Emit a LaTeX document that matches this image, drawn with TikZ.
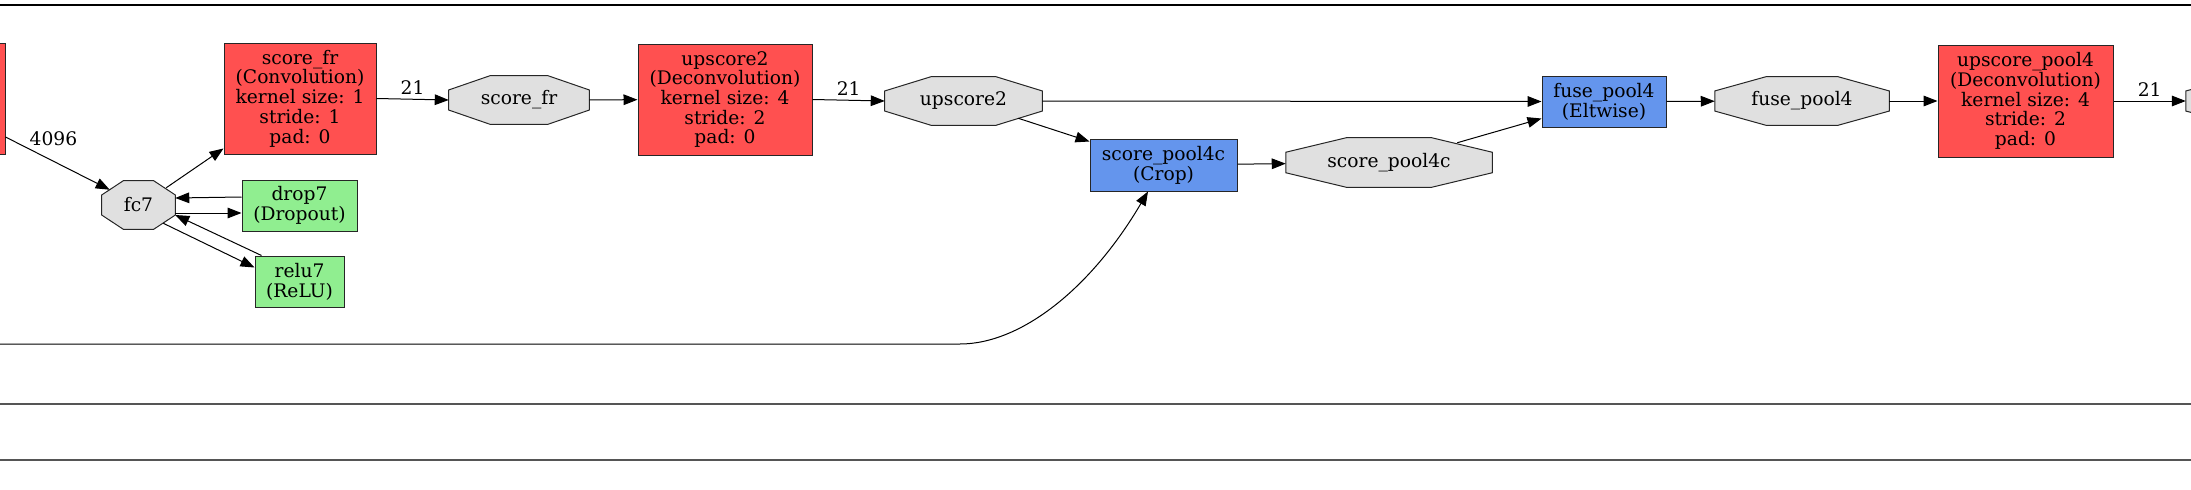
\documentclass[tikz,border=0pt]{standalone}
\usepackage{fontspec}
\setmainfont{DejaVu Serif}
\usetikzlibrary{arrows.meta,backgrounds,calc,positioning}
\definecolor{convred}{HTML}{FF5050}
\definecolor{actgreen}{HTML}{90EE90}
\definecolor{cropblue}{HTML}{6495ED}
\definecolor{blobgray}{HTML}{E0E0E0}
\definecolor{farline}{HTML}{555555}
% octagon drawn round a blob node
\newcommand{\BlobOct}[1]{%
  \filldraw[fill=blobgray,draw=black!85,line width=0.75pt]
    ($(#1.north west)!.293!(#1.north east)$) -- ($(#1.north east)!.293!(#1.north west)$) --
    ($(#1.north east)!.293!(#1.south east)$) -- ($(#1.south east)!.293!(#1.north east)$) --
    ($(#1.south east)!.293!(#1.south west)$) -- ($(#1.south west)!.293!(#1.south east)$) --
    ($(#1.south west)!.293!(#1.north west)$) -- ($(#1.north west)!.293!(#1.south west)$) -- cycle;}

\begin{document}
\begin{tikzpicture}[x=0.75pt,y=-0.75pt,>={Triangle[length=10.5pt,width=8pt]},
  font=\fontsize{14pt}{14.8pt}\selectfont,
  layer/.style={draw=black!85,line width=0.75pt,rectangle,align=center,inner sep=0pt},
  conv/.style={layer,fill=convred,minimum height=83.25pt},
  act/.style={layer,fill=actgreen,minimum height=38.25pt},
  crop/.style={layer,fill=cropblue,minimum height=38.25pt},
  blob/.style={rectangle,inner sep=0pt,minimum height=36pt,align=center},
  edge/.style={->,line width=0.75pt},
  lbl/.style={inner sep=1pt},
  far/.style={line width=1.3pt,farline}]
\useasboundingbox (0,0) rectangle (2191,489);
\node[conv,minimum width=112.5pt] (fc7conv) at (-70,98.5) {};
\node[blob,minimum width=54.75pt] (fc7) at (138.5,205) {fc7};
\node[conv,minimum width=114pt] (scorefr) at (300,98.5) {score\_fr\\(Convolution)\\kernel size: 1\\stride: 1\\pad: 0};
\node[act,minimum width=86.25pt] (drop7) at (299.5,205.5) {drop7\\(Dropout)};
\node[act,minimum width=66.75pt] (relu7) at (299.5,281.5) {relu7\\(ReLU)};
\node[blob,minimum width=105pt] (scorefrb) at (519,100) {score\_fr};
\node[conv,minimum width=130.5pt] (upscore2) at (725,99.5) {upscore2\\(Deconvolution)\\kernel size: 4\\stride: 2\\pad: 0};
\node[blob,minimum width=117.75pt] (upscore2b) at (963.5,101) {upscore2};
\node[crop,minimum width=110.25pt,minimum height=39pt] (scorepool4c) at (1163.5,165) {score\_pool4c\\(Crop)};
\node[blob,minimum width=154.5pt,minimum height=36.75pt] (scorepool4cb) at (1389,162.5) {score\_pool4c};
\node[crop,minimum width=93pt] (fusepool4) at (1604,101.5) {fuse\_pool4\\(Eltwise)};
\node[blob,minimum width=130.5pt] (fusepool4b) at (1802,101) {fuse\_pool4};
\node[conv,minimum width=131.25pt,minimum height=84pt] (upscorepool4) at (2025.5,101) {upscore\_pool4\\(Deconvolution)\\kernel size: 4\\stride: 2\\pad: 0};
\node[blob,minimum width=142.5pt] (upscorepool4b) at (2281,101) {};
\begin{scope}[on background layer]
\BlobOct{fc7}
\BlobOct{scorefrb}
\BlobOct{upscore2b}
\BlobOct{scorepool4cb}
\BlobOct{fusepool4b}
\BlobOct{upscorepool4b}
\end{scope}
% loose ends of edges running off the picture
\coordinate (topL) at (0,5);
\coordinate (topR) at (2191,5);
\coordinate (midL) at (0,404);
\coordinate (midR) at (2191,404);
\coordinate (lowL) at (0,460);
\coordinate (lowR) at (2191,460);
\coordinate (pool4in) at (0,344);
\draw[line width=1pt] (topL) -- (topR);
\draw[far] (midL) -- (midR);
\draw[far] (lowL) -- (lowR);
\draw[edge] ($(fc7conv.east)+(0,38.5)$) -- node[lbl,pos=.46,above=10pt] {4096} ($(fc7.north west)+(8,9)$);
\draw[edge] ($(fc7.north east)+(-9,7)$) -- ($(scorefr.south west)+(0,-6)$);
\draw[edge] ($(drop7.west)+(0,-8.5)$) -- ($(fc7.east)+(0,-7)$);
\draw[edge] ($(fc7.east)+(0,8)$) -- ($(drop7.west)+(0,7.5)$);
\draw[edge] ($(relu7.north west)+(7,0)$) -- ($(fc7.east)+(0,10)$);
\draw[edge] ($(fc7.south east)+(-12,-6)$) -- ($(relu7.north west)+(0,12)$);
\draw[edge] (scorefr.east) -- node[lbl,above=2pt] {21} (scorefrb.west);
\draw[edge] (scorefrb) -- (upscore2);
\draw[edge] (upscore2.east) -- node[lbl,above=2pt] {21} (upscore2b.west);
\draw[edge] (upscore2b.east) -- (fusepool4.west);
\draw[edge] ($(upscore2b.south east)+(-24,-7)$) -- ($(scorepool4c.north west)+(0,3)$);
\draw[edge] (pool4in) -- (960,344) .. controls (1020,344) and (1090,290) .. ($(scorepool4c.south)+(-15.5,0)$);
\draw[edge] (scorepool4c) -- (scorepool4cb);
\draw[edge] ($(scorepool4cb.north east)+(-35,5)$) -- ($(fusepool4.south west)+(0,-9)$);
\draw[edge] (fusepool4) -- (fusepool4b);
\draw[edge] (fusepool4b) -- (upscorepool4);
\draw[edge] (upscorepool4.east) -- node[lbl,above=2pt] {21} (upscorepool4b.west);
\end{tikzpicture}
\end{document}
